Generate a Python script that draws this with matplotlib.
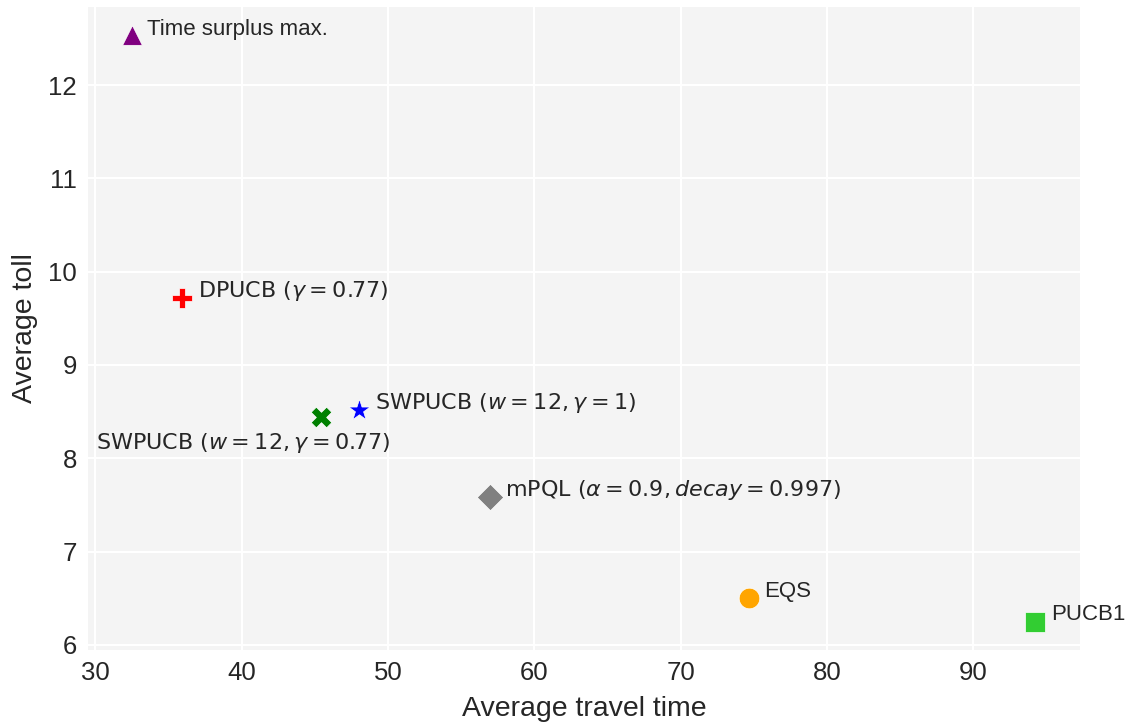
import matplotlib
matplotlib.use("Agg")
import matplotlib.pyplot as plt

# Data
methods = ["Time surplus max.", r"DPUCB ($\gamma=0.77$)", r"SWPUCB ($w=12, \gamma=0.77$)",
           r"SWPUCB ($w=12, \gamma=1$)", r"mPQL ($\alpha=0.9, decay=0.997$)", "EQS", "PUCB1"]
travel_time = [32.5, 35.95, 45.45, 48.05, 56.95, 74.65, 94.25]
toll = [12.54, 9.72, 8.44, 8.52, 7.59, 6.50, 6.25]

markers = ["^", "P", "X", "*", "D", "o", "s"]
colors = ["purple", "red", "green", "blue", "gray", "orange", "limegreen"]
sizes = [200, 220, 220, 260, 180, 220, 200]
offsets = [(11, 4), (11, 5), (-162, -18.5), (11, 5), (11, 5), (11, 5), (11, 5)]

plt.rcParams['font.family'] = ['Liberation Sans', 'DejaVu Sans']

fig = plt.figure(figsize=(11.29, 7.22), dpi=100)
ax = fig.add_axes([88 / 1129, 72 / 722, 992 / 1129, 643 / 722])
ax.set_facecolor("#f4f4f4")
for s in ax.spines.values():
    s.set_visible(False)
ax.grid(True, color="white", linewidth=1.5)
ax.set_axisbelow(True)

for i in range(len(methods)):
    ax.scatter(travel_time[i], toll[i], marker=markers[i], color=colors[i], s=sizes[i],
               edgecolors="white", linewidths=0.5, zorder=3)
    is_math = "$" in methods[i]
    ax.annotate(methods[i], (travel_time[i], toll[i]), xytext=offsets[i],
                textcoords="offset points", ha="left", va="center",
                fontsize=16, color="#262626",
                family="DejaVu Sans" if is_math else "Liberation Sans")

ax.set_xlim(29.5, 97.3)
ax.set_ylim(5.946, 12.836)
ax.set_xticks([30, 40, 50, 60, 70, 80, 90])
ax.set_yticks([6, 7, 8, 9, 10, 11, 12])
ax.tick_params(axis="both", length=0, labelsize=18.5, labelcolor="#262626", pad=8)
ax.set_xlabel("Average travel time", fontsize=20.5, color="#262626", labelpad=8)
ax.set_ylabel("Average toll", fontsize=20.5, color="#262626", labelpad=7)

fig.savefig("out.png", dpi=100)
